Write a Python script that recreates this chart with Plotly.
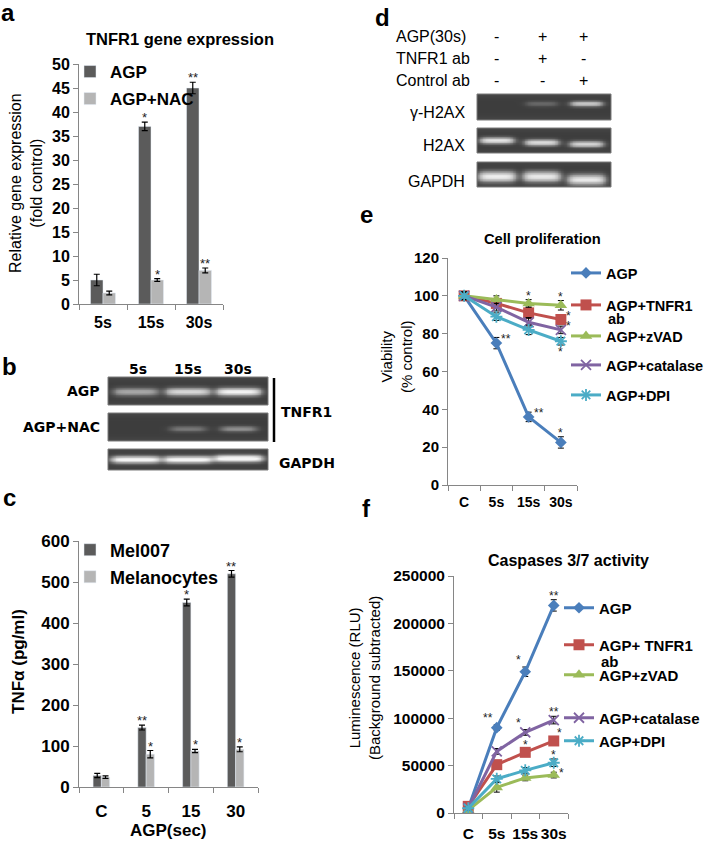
import numpy as np
import plotly.graph_objects as go

W, H = 712, 841
def px(x): return x / W
def py(y): return 1 - y / H

FONT = "Liberation Sans, Arial, sans-serif"
GELFONT = "DejaVu Sans, Verdana, sans-serif"

# ---------------- data ----------------
# Panel a
a_cats = ["5s", "15s", "30s"]
a_agp = [5.0, 37.0, 45.0]
a_agp_err = [1.2, 0.9, 1.2]
a_nac = [2.3, 5.0, 7.0]
a_nac_err = [0.4, 0.3, 0.5]
a_agp_sig = ["", "*", "**"]
a_nac_sig = ["", "*", "**"]

# Panel b (band intensities, 0-1)
b_lanes = ["5s", "15s", "30s"]
b_agp_band = [0.45, 0.72, 0.88]
b_nac_band = [0.0, 0.25, 0.35]
b_gapdh_band = [0.95, 0.95, 1.0]

# Panel c
c_cats = ["C", "5", "15", "30"]
c_mel = [28, 145, 450, 520]
c_mel_err = [5, 6, 8, 8]
c_melano = [24, 80, 88, 92]
c_melano_err = [3, 9, 4, 6]
c_mel_sig = ["", "**", "*", "**"]
c_melano_sig = ["", "*", "*", "*"]

# Panel d
d_agp = ["-", "+", "+"]
d_tnfr1 = ["-", "+", "-"]
d_ctrl = ["-", "-", "+"]
d_gh2ax_band = [0.0, 0.18, 0.65]
d_h2ax_band = [0.8, 0.75, 0.7]
d_gapdh_band = [0.85, 0.82, 0.82]

# Panel e
e_cats = ["C", "5s", "15s", "30s"]
e_names = ["AGP", "AGP+TNFR1", "AGP+zVAD", "AGP+catalase", "AGP+DPI"]
e_name_cont = "ab"
e_agp = [100, 75, 36, 22.5]
e_tnfr1 = [100, 96, 91, 87.5]
e_zvad = [100, 98, 96, 95]
e_cat = [100, 94, 86, 82]
e_dpi = [100, 89, 82, 76]
e_agp_err = [2, 3, 2.5, 3]
e_tnfr1_err = [2, 2, 3, 2]
e_zvad_err = [2, 2, 2, 2.5]
e_cat_err = [2, 2, 2.5, 2]
e_dpi_err = [2, 2, 2.5, 2]
e_agp_sig = ["", "**", "**", "*"]
e_tnfr1_sig = ["", "", "", "*"]
e_zvad_sig = ["", "", "*", "*"]
e_cat_sig = ["", "", "", "*"]
e_dpi_sig = ["", "", "", "*"]

# Panel f
f_cats = ["C", "5s", "15s", "30s"]
f_names = ["AGP", "AGP+ TNFR1", "AGP+zVAD", "AGP+catalase", "AGP+DPI"]
f_name_cont = "ab"
f_agp = [5000, 90000, 149000, 219000]
f_tnfr1 = [7000, 51000, 64000, 76000]
f_zvad = [3000, 27000, 37000, 40000]
f_cat = [5000, 65000, 85000, 98000]
f_dpi = [5000, 36000, 45000, 53000]
f_agp_err = [2000, 3000, 5000, 6000]
f_tnfr1_err = [2000, 3000, 3000, 3000]
f_zvad_err = [1500, 5000, 3000, 3000]
f_cat_err = [2000, 3000, 3000, 4000]
f_dpi_err = [2000, 3000, 3000, 4000]
f_agp_sig = ["", "**", "*", "**"]
f_tnfr1_sig = ["", "", "*", "*"]
f_zvad_sig = ["", "", "", "*"]
f_cat_sig = ["", "", "*", "**"]
f_dpi_sig = ["", "", "", "*"]

# ---------------- styles ----------------
DARK = "#5b5b5b"
LIGHT = "#b5b5b5"
COLS = ["#4A7EBB", "#C0504D", "#9BBB59", "#8064A2", "#4BACC6"]
SYMS = ["diamond", "square", "triangle-up", "x-thin", "asterisk"]
MSIZE = [9, 11, 11, 10, 10]
AXC = "#868686"

fig = go.Figure()
ann = []
shapes = []

def legend_box(x, y, size, yanchor="middle", valign="middle"):
    return dict(x=px(x), y=py(y), xanchor="left", yanchor=yanchor,
                bgcolor="rgba(0,0,0,0)", borderwidth=0, itemwidth=30,
                valign=valign, tracegroupgap=0,
                font=dict(family=FONT, size=size, color="black", weight="bold"))

legends = {}

def star(xref, yref, x, y, text, where, size=13):
    d = dict(xref=xref, yref=yref, x=x, y=y, text=text, showarrow=False,
             font=dict(family=FONT, size=size, color="#222"))
    if where == "a":
        d.update(xanchor="center", yanchor="bottom", yshift=-5)
    elif where == "b":
        d.update(xanchor="center", yanchor="top", yshift=2)
    elif where == "r":
        d.update(xanchor="left", yanchor="middle", xshift=3, yshift=0)
    elif where == "al":
        d.update(xanchor="right", yanchor="bottom", xshift=-2, yshift=-2)
    elif where == "ar":
        d.update(xanchor="left", yanchor="bottom", xshift=1, yshift=-4)
    ann.append(d)

def txt(x, y, s, size, bold=False, family=FONT, xanchor="center", angle=0, yanchor="middle"):
    ann.append(dict(xref="paper", yref="paper", x=px(x), y=py(y),
                    text=("<b>%s</b>" % s) if bold else s, showarrow=False,
                    xanchor=xanchor, yanchor=yanchor, textangle=angle,
                    font=dict(family=family, size=size, color="black")))

# ---------------- panel a ----------------
A_W = 0.26
fig.add_trace(go.Bar(x=a_cats, y=a_agp, name="AGP", marker_color=DARK,
                     width=A_W, offset=-A_W, xaxis="x", yaxis="y", legend="legend",
                     error_y=dict(type="data", array=a_agp_err, color="black", thickness=1.2, width=3)))
fig.add_trace(go.Bar(x=a_cats, y=a_nac, name="AGP+NAC", marker_color=LIGHT,
                     width=A_W, offset=0, xaxis="x", yaxis="y", legend="legend2",
                     error_y=dict(type="data", array=a_nac_err, color="black", thickness=1.2, width=3)))
legends["legend"] = legend_box(70, 72, 17)
legends["legend2"] = legend_box(70, 99, 17)
for i in range(len(a_cats)):
    if a_agp_sig[i]:
        star("x", "y", i - A_W / 2, a_agp[i] + a_agp_err[i], a_agp_sig[i], "a")
    if a_nac_sig[i]:
        star("x", "y", i + A_W / 2, a_nac[i] + a_nac_err[i], a_nac_sig[i], "a")

# ---------------- panel c ----------------
C_W = 0.185
fig.add_trace(go.Bar(x=c_cats, y=c_mel, name="Mel007", marker_color=DARK,
                     width=C_W, offset=-C_W, xaxis="x2", yaxis="y2", legend="legend3",
                     error_y=dict(type="data", array=c_mel_err, color="black", thickness=1.2, width=3)))
fig.add_trace(go.Bar(x=c_cats, y=c_melano, name="Melanocytes", marker_color=LIGHT,
                     width=C_W, offset=0, xaxis="x2", yaxis="y2", legend="legend4",
                     error_y=dict(type="data", array=c_melano_err, color="black", thickness=1.2, width=3)))
legends["legend3"] = legend_box(70, 550, 18)
legends["legend4"] = legend_box(70, 577, 18)
for i in range(len(c_cats)):
    if c_mel_sig[i]:
        star("x2", "y2", i - C_W / 2, c_mel[i] + c_mel_err[i], c_mel_sig[i], "a")
    if c_melano_sig[i]:
        star("x2", "y2", i + C_W / 2, c_melano[i] + c_melano_err[i], c_melano_sig[i], "a")

# ---------------- panel e ----------------
e_series = [e_agp, e_tnfr1, e_zvad, e_cat, e_dpi]
e_errs = [e_agp_err, e_tnfr1_err, e_zvad_err, e_cat_err, e_dpi_err]
e_sigs = [e_agp_sig, e_tnfr1_sig, e_zvad_sig, e_cat_sig, e_dpi_sig]
e_where = [["", "r", "r", "a"], ["", "", "", "r"], ["", "", "a", "a"],
           ["", "", "", "r"], ["", "", "", "b"]]
e_leg_y = [273, 305, 336, 365, 395]
for k in range(5):
    lg = "legend%d" % (5 + k)
    mk = dict(symbol=SYMS[k], size=MSIZE[k], color=COLS[k])
    if SYMS[k] in ("x-thin", "asterisk"):
        mk["line"] = dict(color=COLS[k], width=1.8)
    fig.add_trace(go.Scatter(x=e_cats, y=e_series[k], name=e_names[k], mode="lines+markers",
                             line=dict(color=COLS[k], width=3), marker=mk,
                             xaxis="x3", yaxis="y3", legend=lg,
                             error_y=dict(type="data", array=e_errs[k], color="black", thickness=1, width=3)))
    legends[lg] = legend_box(566, e_leg_y[k], 14.5)
    for i in range(4):
        s = e_sigs[k][i]
        if s:
            w = e_where[k][i]
            if w == "a":
                yv = e_series[k][i] + e_errs[k][i]
            elif w == "b":
                yv = e_series[k][i] - e_errs[k][i]
            else:
                yv = e_series[k][i] + 2
            star("x3", "y3", i, yv, s, w, 12)
txt(606, 319, e_name_cont, 14.5, bold=True, xanchor="left")

# ---------------- panel f ----------------
f_series = [f_agp, f_tnfr1, f_zvad, f_cat, f_dpi]
f_errs = [f_agp_err, f_tnfr1_err, f_zvad_err, f_cat_err, f_dpi_err]
f_sigs = [f_agp_sig, f_tnfr1_sig, f_zvad_sig, f_cat_sig, f_dpi_sig]
f_where = [["", "al", "al", "a"], ["", "", "a", "ar"], ["", "", "", "r"],
           ["", "", "al", "a"], ["", "", "", "a"]]
f_leg_y = [608, 645, 675, 718, 741]
for k in range(5):
    lg = "legend%d" % (10 + k)
    mk = dict(symbol=SYMS[k], size=MSIZE[k], color=COLS[k])
    if SYMS[k] in ("x-thin", "asterisk"):
        mk["line"] = dict(color=COLS[k], width=1.8)
    fig.add_trace(go.Scatter(x=f_cats, y=f_series[k], name=f_names[k], mode="lines+markers",
                             line=dict(color=COLS[k], width=3), marker=mk,
                             xaxis="x4", yaxis="y4", legend=lg,
                             error_y=dict(type="data", array=f_errs[k], color="black", thickness=1, width=3)))
    legends[lg] = legend_box(559, f_leg_y[k], 15)
    for i in range(4):
        s = f_sigs[k][i]
        if s:
            w = f_where[k][i]
            if w in ("a", "al", "ar"):
                yv = f_series[k][i] + f_errs[k][i]
            else:
                yv = f_series[k][i] + 2000
            star("x4", "y4", i, yv, s, w, 12)
txt(599, 661, f_name_cont, 15, bold=True, xanchor="left")

# ---------------- gels ----------------
def gel_trace(bands, centers, band_y, halfw, sigma, xa, ya):
    nx, ny = 180, 40
    xs = np.linspace(0, 3, nx)
    ys = np.linspace(0, 1, ny)
    X, Y = np.meshgrid(xs, ys)
    z = 0.12 + 0.05 * (np.abs(Y - 0.5) * 2) ** 4
    for i, inten in enumerate(bands):
        fx = 1.0 / (1.0 + np.exp((np.abs(X - centers[i]) - halfw) / 0.05))
        fy = np.exp(-((Y - band_y[i]) / sigma) ** 2)
        z = z + inten * fx * fy
    z = np.clip(z, 0, 1)
    return go.Heatmap(x=xs, y=ys, z=z, zmin=0, zmax=1, showscale=False, hoverinfo="skip",
                      colorscale=[[0, "#262626"], [0.12, "#3d3d3d"], [0.5, "#9a9a9a"], [1, "#f4f4f4"]],
                      xaxis=xa, yaxis=ya)

b_centers = [0.52, 1.5, 2.45]
d_centers = [0.45, 1.45, 2.45]
gels = [
    (b_agp_band, b_centers, [0.47] * 3, 0.4, 0.14, 108, 268, 377, 405),
    (b_nac_band, b_centers, [0.43] * 3, 0.32, 0.1, 108, 268, 413, 441),
    (b_gapdh_band, b_centers, [0.5, 0.5, 0.55], 0.44, 0.16, 108, 268, 449, 470),
    (d_gh2ax_band, d_centers, [0.62] * 3, 0.34, 0.1, 477, 611, 94, 120),
    (d_h2ax_band, d_centers, [0.5, 0.42, 0.36], 0.36, 0.12, 477, 611, 128, 153),
    (d_gapdh_band, d_centers, [0.42, 0.42, 0.3], 0.4, 0.2, 477, 611, 162, 187),
]

layout_axes = {}
for g, (bands, cen, by, hw, sg, x0, x1, y0, y1) in enumerate(gels):
    n = 5 + g
    fig.add_trace(gel_trace(bands, cen, by, hw, sg, "x%d" % n, "y%d" % n))
    layout_axes["xaxis%d" % n] = dict(domain=[px(x0), px(x1)], range=[0, 3], visible=False,
                                      anchor="y%d" % n, fixedrange=True, automargin=False)
    layout_axes["yaxis%d" % n] = dict(domain=[py(y1), py(y0)], range=[0, 1], visible=False,
                                      anchor="x%d" % n, fixedrange=True, automargin=False)
    shapes.append(dict(type="rect", xref="x%d domain" % n, yref="y%d domain" % n,
                       x0=0, x1=1, y0=0, y1=1, line=dict(color="#7a7a7a", width=1)))

# bracket in b
shapes.append(dict(type="line", xref="paper", yref="paper", x0=px(274), x1=px(274),
                   y0=py(378), y1=py(442), line=dict(color="black", width=2.5)))

# panel letters
for L, (x, y) in {"a": (8, 12), "b": (9, 366), "c": (9, 497), "d": (382, 18),
                  "e": (366, 214), "f": (366, 508)}.items():
    txt(x, y, L, 24, bold=True)

# b labels
for i, lab in enumerate(b_lanes):
    txt([138, 188, 238][i], 369, lab, 14, bold=True, family=GELFONT)
txt(102, 391, "AGP", 14, bold=True, family=GELFONT, xanchor="right")
txt(102, 427, "AGP+NAC", 14, bold=True, family=GELFONT, xanchor="right")
txt(279, 412, "TNFR1", 14, bold=True, family=GELFONT, xanchor="left")
txt(277, 463, "GAPDH", 14, bold=True, family=GELFONT, xanchor="left")

# d labels
for row, (lab, signs) in enumerate([("AGP(30s)", d_agp), ("TNFR1 ab", d_tnfr1), ("Control ab", d_ctrl)]):
    yy = [36, 58, 80][row]
    txt(394, yy, lab, 16, xanchor="left")
    for j, s in enumerate(signs):
        txt([496, 542, 583][j], yy, s, 16)
txt(467, 113, "γ-H2AX", 16, xanchor="right")
txt(467, 146, "H2AX", 16, xanchor="right")
txt(467, 181, "GAPDH", 16, xanchor="right")

# titles
txt(180, 39, "TNFR1 gene expression", 16.5, bold=True)
txt(542, 239, "Cell proliferation", 14.7, bold=True)
txt(568, 560, "Caspases 3/7 activity", 16, bold=True)
txt(26, 183, "Relative gene expression<br>(fold control)", 16, angle=-90)
txt(18, 662, "TNFα (pg/ml)", 17, bold=True, angle=-90)
txt(168, 830, "AGP(sec)", 17, bold=True)
txt(396, 357, "Viability<br>(% control)", 15, angle=-90)
txt(364, 678, "Luminescence (RLU)<br>(Background subtracted)", 15, angle=-90)

def yax(dom, rng, size, anchor, vals):
    return dict(domain=dom, range=rng, tickvals=vals, ticktext=["<b>%s</b>" % v for v in vals],
                showline=True, linecolor=AXC, linewidth=1,
                ticks="outside", tickcolor=AXC, ticklen=5, showgrid=False, zeroline=False,
                tickfont=dict(family=FONT, size=size, color="black"), anchor=anchor,
                fixedrange=True, automargin=False)

def xax(dom, cats, size, anchor, standoff=2):
    n = len(cats)
    return dict(domain=dom, type="category", range=[-0.5, n - 0.5], showline=True, linecolor=AXC,
                linewidth=1, ticks="outside", tickson="boundaries", tickcolor=AXC, ticklen=5,
                showgrid=False, zeroline=False, ticklabelstandoff=standoff, tickangle=0,
                tickvals=cats, ticktext=["<b>%s</b>" % c for c in cats],
                tickfont=dict(family=FONT, size=size, color="black"), anchor=anchor,
                fixedrange=True, automargin=False)

layout_axes["xaxis"] = xax([px(79), px(223)], a_cats, 16, "y", 4)
layout_axes["yaxis"] = yax([py(304), py(64)], [0, 50], 16, "x", list(range(0, 51, 5)))
layout_axes["xaxis2"] = xax([px(79), px(258)], c_cats, 17, "y2", 9)
layout_axes["yaxis2"] = yax([py(787), py(541)], [0, 600], 17, "x2", list(range(0, 601, 100)))
layout_axes["xaxis3"] = xax([px(448), px(577)], e_cats, 14, "y3", 4)
layout_axes["yaxis3"] = yax([py(485), py(258)], [0, 120], 15, "x3", list(range(0, 121, 20)))
layout_axes["xaxis4"] = xax([px(454), px(568)], f_cats, 15.5, "y4", 6)
layout_axes["yaxis4"] = yax([py(813), py(576)], [0, 250000], 15.5, "x4", list(range(0, 250001, 50000)))

fig.update_layout(
    width=W, height=H, margin=dict(l=0, r=0, t=0, b=0, autoexpand=False),
    paper_bgcolor="white", plot_bgcolor="rgba(0,0,0,0)",
    barmode="overlay", showlegend=True, hovermode=False,
    annotations=ann, shapes=shapes,
    font=dict(family=FONT, color="black"),
    **layout_axes, **legends,
)
fig.write_html("out.html", config={"displayModeBar": False, "staticPlot": False},
               post_script="document.body.style.margin='0px';document.body.style.overflow='hidden';")
